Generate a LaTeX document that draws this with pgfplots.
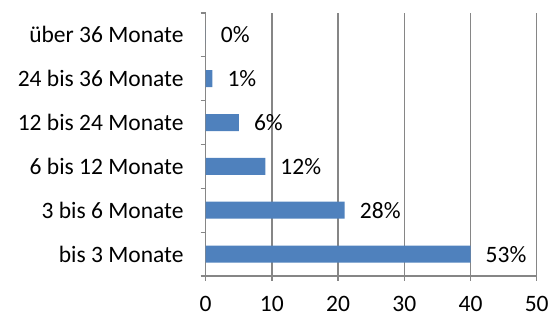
\documentclass[border=0pt]{standalone}
\usepackage{fontspec}
\setmainfont{Carlito}
\usepackage{pgfplots}
\pgfplotsset{compat=1.18}
\definecolor{barblue}{RGB}{79,129,189}
\definecolor{gridgray}{RGB}{134,134,134}
\begin{document}
\fontsize{23.5bp}{28bp}\selectfont
\begin{tikzpicture}
\useasboundingbox (0,0) rectangle (559bp,320bp);
\begin{axis}[
  at={(205.7bp,44bp)}, anchor=south west,
  scale only axis, width=331bp, height=263bp,
  xmin=0, xmax=50, ymin=-0.5, ymax=5.5,
  enlargelimits=false,
  axis lines=left,
  axis line style={-, gridgray, line width=1.3bp},
  xtick={0,10,...,50},
  xmajorgrids,
  major grid style={gridgray, line width=1.3bp},
  tick style={gridgray, line width=1.3bp},
  tick align=outside,
  major tick length=5bp,
  ytick={-0.5,0.5,...,5.5},
  yticklabels={},
  extra y ticks={0,1,2,3,4,5},
  extra y tick labels={bis 3 Monate, 3 bis 6 Monate, 6 bis 12 Monate, 12 bis 24 Monate, 24 bis 36 Monate, über 36 Monate},
  extra y tick style={major tick length=0pt},
  yticklabel style={inner sep=0pt, anchor=east, xshift=-22bp, black},
  xticklabel style={inner sep=0pt, anchor=north, yshift=-15bp, black},
  /pgf/number format/assume math mode=true,
  xbar, bar width=17bp,
  point meta=explicit symbolic,
  nodes near coords={\pgfplotspointmeta\%},
  every node near coord/.style={anchor=west, inner sep=0pt, xshift=15bp, black},
]
\addplot[fill=barblue, draw=none] table[x=v, y=c, meta=p] {
c v p
0 40 53
1 21 28
2 9 12
3 5 6
4 1 1
5 0 0
};
\end{axis}
\end{tikzpicture}
\end{document}
